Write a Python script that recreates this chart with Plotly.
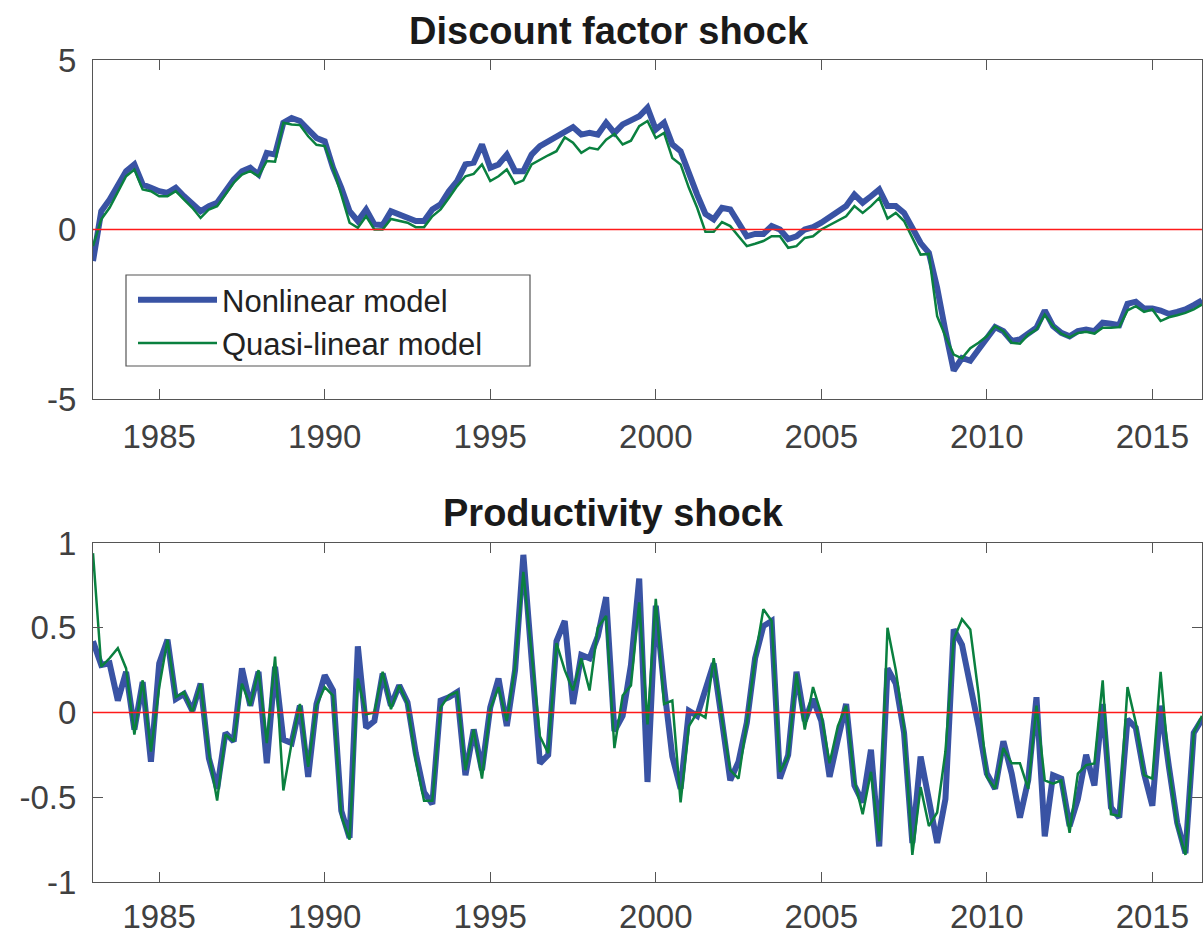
import plotly.graph_objects as go

# ---------------- data (quarterly, 1983Q1 .. 2016Q3) ----------------
start_year = 1983.0
disc_nonlinear = [
    -0.93, 0.54, 0.88, 1.28,   # 1983
    1.72, 1.92, 1.33, 1.23,    # 1984
    1.13, 1.08, 1.23, 0.98,    # 1985
    0.74, 0.54, 0.69, 0.79,    # 1986
    1.13, 1.47, 1.72, 1.82,    # 1987
    1.62, 2.26, 2.21, 3.15,    # 1988
    3.29, 3.20, 2.95, 2.70,    # 1989
    2.60, 1.82, 1.23, 0.54,    # 1990
    0.25, 0.59, 0.15, 0.13,    # 1991
    0.54, 0.44, 0.34, 0.25,    # 1992
    0.25, 0.59, 0.74, 1.13,    # 1993
    1.43, 1.92, 1.97, 2.51,    # 1994
    1.82, 1.92, 2.21, 1.72,    # 1995
    1.72, 2.21, 2.46, 2.59,    # 1996
    2.75, 2.88, 3.02, 2.80,    # 1997
    2.85, 2.80, 3.15, 2.85,    # 1998
    3.10, 3.22, 3.34, 3.59,    # 1999
    2.95, 3.15, 2.51, 2.31,    # 2000
    1.62, 1.03, 0.46, 0.30,    # 2001
    0.64, 0.59, 0.20, -0.20,   # 2002
    -0.13, -0.13, 0.10, 0.00,  # 2003
    -0.28, -0.20, 0.00, 0.07,  # 2004
    0.20, 0.36, 0.49, 0.69,    # 2005
    1.03, 0.79, 0.98, 1.18,    # 2006
    0.69, 0.69, 0.49, 0.05,    # 2007
    -0.40, -0.69, -1.72, -3.00,  # 2008
    -4.16, -3.79, -3.87, -3.54,  # 2009
    -3.24, -2.88, -3.00, -3.29,  # 2010
    -3.24, -3.05, -2.90, -2.39,  # 2011
    -2.85, -3.05, -3.15, -3.00,  # 2012
    -2.95, -3.00, -2.75, -2.78,  # 2013
    -2.82, -2.19, -2.13, -2.33,  # 2014
    -2.33, -2.39, -2.49, -2.43,  # 2015
    -2.36, -2.23, -2.09,         # 2016
]
disc_quasilinear = [
    -0.49, 0.30, 0.64, 1.13,   # 1983
    1.57, 1.77, 1.18, 1.13,    # 1984
    0.98, 0.98, 1.13, 0.88,    # 1985
    0.64, 0.34, 0.59, 0.69,    # 1986
    1.03, 1.38, 1.62, 1.72,    # 1987
    1.57, 2.02, 2.00, 3.15,    # 1988
    3.10, 3.08, 2.75, 2.50,    # 1989
    2.46, 1.82, 1.03, 0.20,    # 1990
    0.05, 0.39, 0.00, 0.00,    # 1991
    0.31, 0.25, 0.20, 0.07,    # 1992
    0.07, 0.39, 0.59, 0.93,    # 1993
    1.28, 1.57, 1.64, 1.92,    # 1994
    1.43, 1.57, 1.77, 1.35,    # 1995
    1.45, 1.92, 2.06, 2.19,    # 1996
    2.31, 2.72, 2.56, 2.26,    # 1997
    2.41, 2.36, 2.65, 2.82,    # 1998
    2.51, 2.62, 3.05, 3.20,    # 1999
    2.70, 2.85, 2.11, 1.92,    # 2000
    1.23, 0.64, -0.07, -0.07,  # 2001
    0.22, 0.10, -0.20, -0.49,  # 2002
    -0.42, -0.34, -0.20, -0.20,  # 2003
    -0.54, -0.49, -0.25, -0.20,  # 2004
    0.00, 0.13, 0.25, 0.39,    # 2005
    0.69, 0.49, 0.69, 0.93,    # 2006
    0.32, 0.49, 0.25, -0.25,   # 2007
    -0.74, -0.72, -2.56, -3.15,  # 2008
    -3.69, -3.80, -3.50, -3.34,  # 2009
    -3.15, -2.85, -3.00, -3.34,  # 2010
    -3.37, -3.10, -2.95, -2.51,  # 2011
    -2.85, -3.07, -3.18, -3.05,  # 2012
    -3.02, -3.07, -2.90, -2.90,  # 2013
    -2.88, -2.39, -2.26, -2.43,  # 2014
    -2.36, -2.70, -2.59, -2.53,  # 2015
    -2.46, -2.36, -2.21,         # 2016
]
prod_nonlinear = [
    0.42, 0.28, 0.29, 0.07,    # 1983
    0.24, -0.10, 0.18, -0.29,  # 1984
    0.29, 0.43, 0.08, 0.11,    # 1985
    0.01, 0.17, -0.27, -0.45,  # 1986
    -0.12, -0.17, 0.26, 0.04,  # 1987
    0.24, -0.30, 0.27, -0.16,  # 1988
    -0.18, 0.04, -0.38, 0.05,  # 1989
    0.22, 0.13, -0.58, -0.74,  # 1990
    0.39, -0.09, -0.05, 0.23,  # 1991
    0.04, 0.16, 0.06, -0.24,   # 1992
    -0.47, -0.54, 0.07, 0.09,  # 1993
    0.12, -0.37, -0.10, -0.34,  # 1994
    0.03, 0.20, -0.08, 0.25,   # 1995
    0.93, 0.31, -0.30, -0.25,  # 1996
    0.42, 0.54, 0.05, 0.34,    # 1997
    0.32, 0.45, 0.68, -0.11,   # 1998
    -0.02, 0.28, 0.79, -0.41,  # 1999
    0.63, 0.15, -0.26, -0.45,  # 2000
    0.01, -0.02, 0.13, 0.29,   # 2001
    -0.05, -0.40, -0.29, -0.06,  # 2002
    0.32, 0.51, 0.54, -0.39,   # 2003
    -0.25, 0.24, -0.05, 0.08,  # 2004
    -0.05, -0.38, -0.16, 0.05,  # 2005
    -0.43, -0.53, -0.22, -0.79,  # 2006
    0.26, 0.17, -0.12, -0.77,  # 2007
    -0.26, -0.51, -0.77, -0.51,  # 2008
    0.49, 0.40, 0.17, -0.08,   # 2009
    -0.36, -0.45, -0.17, -0.36,  # 2010
    -0.62, -0.40, 0.09, -0.73,  # 2011
    -0.37, -0.39, -0.67, -0.51,  # 2012
    -0.25, -0.43, 0.05, -0.56,  # 2013
    -0.62, -0.04, -0.09, -0.36,  # 2014
    -0.55, 0.04, -0.32, -0.65,  # 2015
    -0.83, -0.12, -0.04,        # 2016
]
prod_quasilinear = [
    0.94, 0.27, 0.32, 0.38,    # 1983
    0.26, -0.13, 0.19, -0.23,  # 1984
    0.15, 0.43, 0.09, 0.12,    # 1985
    0.00, 0.17, -0.24, -0.52,  # 1986
    -0.13, -0.17, 0.17, 0.04,  # 1987
    0.25, -0.18, 0.33, -0.46,  # 1988
    -0.18, 0.05, -0.32, 0.04,  # 1989
    0.15, 0.10, -0.61, -0.75,  # 1990
    0.20, -0.01, 0.00, 0.24,   # 1991
    0.02, 0.16, 0.05, -0.28,   # 1992
    -0.52, -0.52, 0.03, 0.10,  # 1993
    0.12, -0.34, -0.10, -0.39,  # 1994
    0.02, 0.15, -0.05, 0.27,   # 1995
    0.83, 0.35, -0.14, -0.24,  # 1996
    0.41, 0.25, 0.13, 0.32,    # 1997
    0.13, 0.50, 0.57, -0.21,   # 1998
    0.10, 0.16, 0.65, -0.07,   # 1999
    0.67, 0.05, 0.07, -0.53,   # 2000
    -0.08, 0.00, -0.03, 0.32,  # 2001
    -0.04, -0.34, -0.39, -0.06,  # 2002
    0.32, 0.61, 0.54, -0.35,   # 2003
    -0.26, 0.23, -0.10, 0.15,  # 2004
    -0.01, -0.30, -0.08, 0.04,  # 2005
    -0.40, -0.60, -0.35, -0.76,  # 2006
    0.50, 0.25, -0.09, -0.84,  # 2007
    -0.44, -0.67, -0.59, -0.23,  # 2008
    0.43, 0.55, 0.49, 0.11,    # 2009
    -0.38, -0.45, -0.21, -0.30,  # 2010
    -0.30, -0.45, 0.04, -0.40,  # 2011
    -0.42, -0.40, -0.71, -0.36,  # 2012
    -0.31, -0.30, 0.19, -0.60,  # 2013
    -0.61, 0.15, -0.06, -0.37,  # 2014
    -0.39, 0.24, -0.32, -0.67,  # 2015
    -0.84, -0.12, -0.02,        # 2016
]
dates = [start_year + 0.25 * i for i in range(len(disc_nonlinear))]

x_tickvals = [1985, 1990, 1995, 2000, 2005, 2010, 2015]
x_ticktext = ["1985", "1990", "1995", "2000", "2005", "2010", "2015"]
top_tickvals = [-5, 0, 5]
top_ticktext = ["-5", "0", "5"]
bot_tickvals = [-1, -0.5, 0, 0.5, 1]
bot_ticktext = ["-1", "-0.5", "0", "0.5", "1"]
titles = ["Discount factor shock", "Productivity shock"]
series_names = ["Nonlinear model", "Quasi-linear model"]

# ---------------- styling ----------------
BLUE = "#3953a4"
GREEN = "#0a803f"
AXC = "#555555"
TXC = "#404040"
FONT = "Liberation Sans, Arial, Helvetica, sans-serif"

W, H = 1203, 936
ML, MR, MT, MB = 93, 1, 60, 54
plot_h = H - MT - MB
plot_w = W - ML - MR


def py(pix):  # pixel row -> paper y
    return (H - MB - pix) / plot_h


def px(pix):  # pixel column -> paper x
    return (pix - ML) / plot_w


fig = go.Figure()
fig.add_trace(go.Scatter(x=dates, y=disc_nonlinear, mode="lines", name=series_names[0],
                         line=dict(color=BLUE, width=6), xaxis="x", yaxis="y"))
fig.add_trace(go.Scatter(x=dates, y=disc_quasilinear, mode="lines", name=series_names[1],
                         line=dict(color=GREEN, width=2.5), xaxis="x", yaxis="y"))
fig.add_trace(go.Scatter(x=dates, y=prod_nonlinear, mode="lines", name=series_names[0],
                         line=dict(color=BLUE, width=6), xaxis="x2", yaxis="y2",
                         showlegend=False))
fig.add_trace(go.Scatter(x=dates, y=prod_quasilinear, mode="lines", name=series_names[1],
                         line=dict(color=GREEN, width=2.5), xaxis="x2", yaxis="y2",
                         showlegend=False))

common_x = dict(range=[dates[0], dates[-1]], tickvals=x_tickvals, ticktext=x_ticktext,
                showline=True, linecolor=AXC, linewidth=1.2, mirror="ticks",
                ticks="inside", ticklen=10, tickwidth=1, tickcolor=AXC,
                showgrid=False, zeroline=False, automargin=False,
                tickfont=dict(family=FONT, size=33, color=TXC))
common_y = dict(showline=True, linecolor=AXC, linewidth=1.2, mirror="ticks",
                ticks="inside", ticklen=10, tickwidth=1, tickcolor=AXC,
                showgrid=False, zeroline=False, ticklabelstandoff=9, automargin=False,
                tickfont=dict(family=FONT, size=33, color=TXC))

top_lo = py(399)
bot_hi = py(543)

fig.update_layout(
    width=W, height=H,
    margin=dict(l=ML, r=MR, t=MT, b=MB, autoexpand=False),
    paper_bgcolor="white", plot_bgcolor="white",
    font=dict(family=FONT, color=TXC),
    xaxis=dict(domain=[0, 1], anchor="y", ticklabelstandoff=8, **common_x),
    yaxis=dict(domain=[top_lo, 1], anchor="x", range=[-5, 5],
               tickvals=top_tickvals, ticktext=top_ticktext, **common_y),
    xaxis2=dict(domain=[0, 1], anchor="y2", ticklabelstandoff=5, **common_x),
    yaxis2=dict(domain=[0, bot_hi], anchor="x2", range=[-1, 1],
                tickvals=bot_tickvals, ticktext=bot_ticktext, **common_y),
    showlegend=True,
    legend=dict(x=px(133), y=py(273), xanchor="left", yanchor="top",
                bgcolor="rgba(0,0,0,0)", borderwidth=0, itemwidth=79,
                font=dict(family=FONT, size=31, color="#222222"),
                tracegroupgap=0),
    shapes=[
        dict(type="rect", xref="paper", yref="paper",
             x0=px(126), x1=px(530), y0=py(366), y1=py(275),
             line=dict(color="#555555", width=1.2), fillcolor="white", layer="below"),
        dict(type="line", xref="x domain", yref="y", x0=0, x1=1, y0=0, y1=0,
             line=dict(color="#ff1a1a", width=1.5), layer="above"),
        dict(type="line", xref="x2 domain", yref="y2", x0=0, x1=1, y0=0, y1=0,
             line=dict(color="#ff1a1a", width=1.5), layer="above"),
    ],
    annotations=[
        dict(text="<b>%s</b>" % titles[0], xref="paper", yref="paper",
             x=px(609), y=py(31), xanchor="center", yanchor="middle", showarrow=False,
             font=dict(family=FONT, size=38, color="#1a1a1a")),
        dict(text="<b>%s</b>" % titles[1], xref="paper", yref="paper",
             x=px(613), y=py(513), xanchor="center", yanchor="middle", showarrow=False,
             font=dict(family=FONT, size=38, color="#1a1a1a")),
    ],
)

fig.write_html("out.html", config={"displayModeBar": False},
               post_script="document.body.style.margin='0';document.body.style.padding='0';")
